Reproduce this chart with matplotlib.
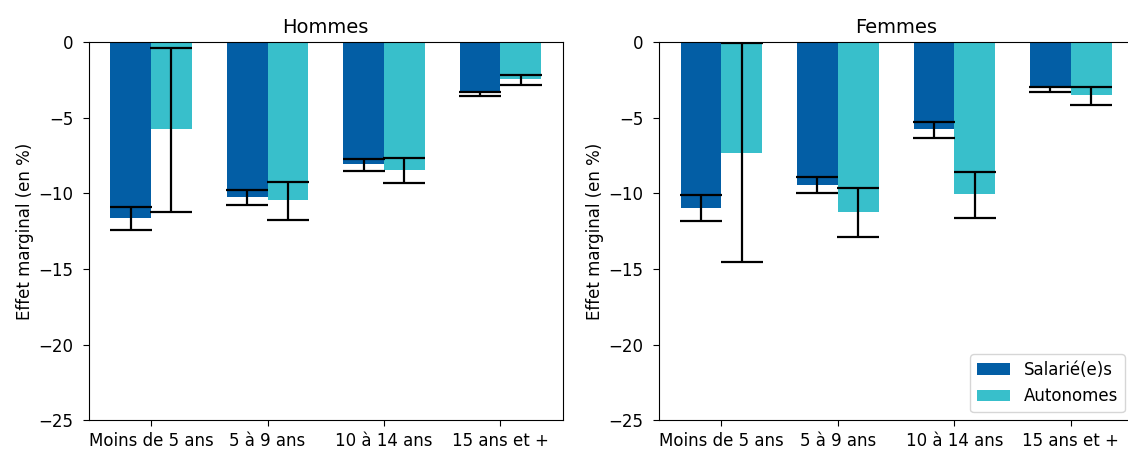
import matplotlib
matplotlib.use("Agg")
import matplotlib.pyplot as plt
import numpy as np

categories = ["Moins de 5 ans", "5 à 9 ans", "10 à 14 ans", "15 ans et +"]
series = ["Salarié(e)s", "Autonomes"]

# Hommes
h_sal = [-11.63, -10.25, -8.06, -3.40]
h_sal_lo = [-12.40, -10.76, -8.52, -3.60]
h_sal_hi = [-10.93, -9.81, -7.77, -3.31]
h_aut = [-5.77, -10.43, -8.47, -2.48]
h_aut_lo = [-11.26, -11.75, -9.33, -2.83]
h_aut_hi = [-0.39, -9.24, -7.69, -2.17]

# Femmes
f_sal = [-10.98, -9.44, -5.77, -3.00]
f_sal_lo = [-11.83, -9.97, -6.32, -3.31]
f_sal_hi = [-10.12, -8.91, -5.27, -3.00]
f_aut = [-7.35, -11.22, -10.08, -3.51]
f_aut_lo = [-14.56, -12.89, -11.66, -4.15]
f_aut_hi = [-0.06, -9.64, -8.58, -3.00]

col_sal = "#035ea5"
col_aut = "#38bfcb"
width = 0.35

fig = plt.figure(figsize=(11.28, 4.49), dpi=100)
ax1 = fig.add_axes([0.0787, 0.0635, 0.4202, 0.8435])
ax2 = fig.add_axes([0.5843, 0.0635, 0.4202, 0.8435])

panels = [
    (ax1, "Hommes", h_sal, h_sal_lo, h_sal_hi, h_aut, h_aut_lo, h_aut_hi),
    (ax2, "Femmes", f_sal, f_sal_lo, f_sal_hi, f_aut, f_aut_lo, f_aut_hi),
]

x = np.arange(len(categories))
for ax, title, sal, sal_lo, sal_hi, aut, aut_lo, aut_hi in panels:
    ax.bar(x - width / 2, sal, width, color=col_sal, label=series[0])
    ax.bar(x + width / 2, aut, width, color=col_aut, label=series[1])
    for xs, lo, hi in [(x - width / 2, sal_lo, sal_hi), (x + width / 2, aut_lo, aut_hi)]:
        lo = np.array(lo)
        hi = np.array(hi)
        mid = (lo + hi) / 2
        ax.errorbar(xs, mid, yerr=[mid - lo, hi - mid], fmt="none", ecolor="black",
                    elinewidth=1.6, capsize=15, capthick=1.6)
    ax.set_ylim(-25, 0)
    ax.set_xticks(x)
    ax.set_xticklabels(categories, fontsize=12)
    ax.tick_params(axis="y", labelsize=12, length=4.2, pad=7)
    ax.tick_params(axis="x", length=4.2, pad=4)
    ax.set_ylabel("Effet marginal (en %)", fontsize=12, labelpad=3)
    ax.set_title(title, fontsize=14)

ax2.legend(loc="lower right", fontsize=12)

fig.savefig("out.png", dpi=100)
